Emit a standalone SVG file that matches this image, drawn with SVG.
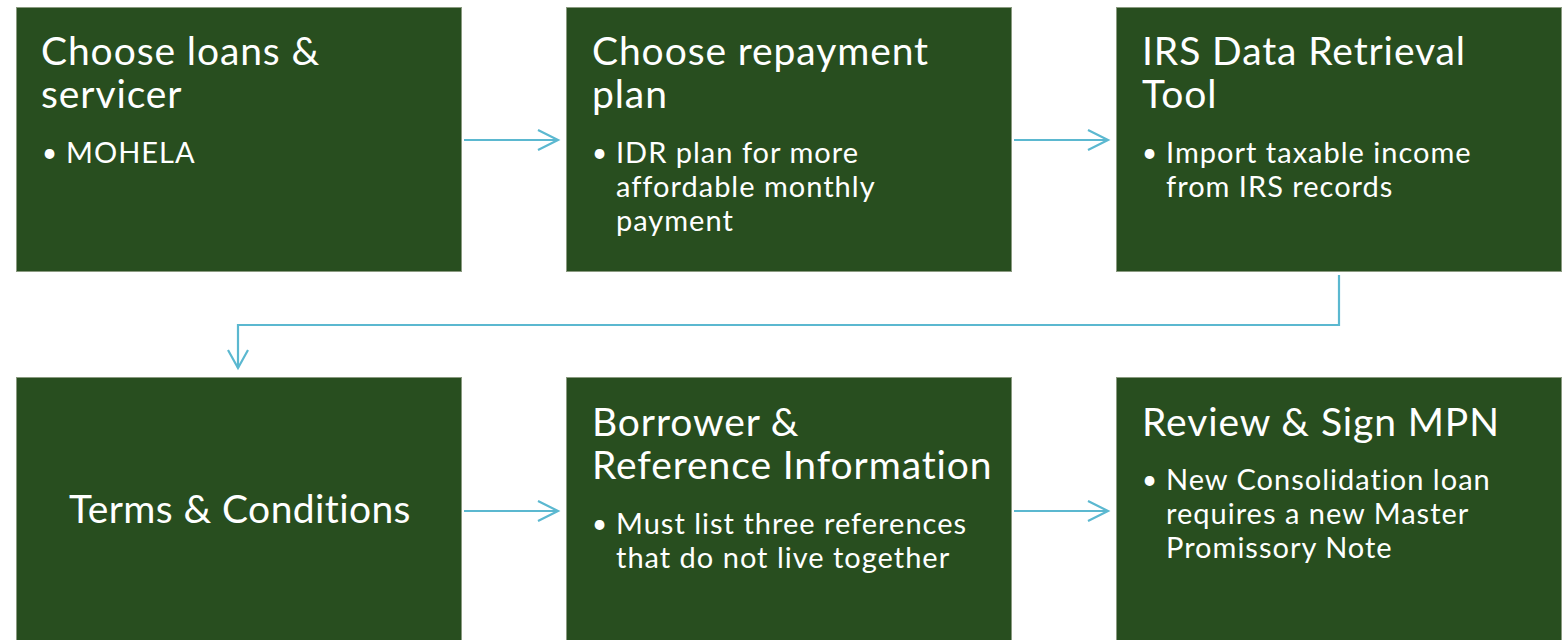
<svg xmlns="http://www.w3.org/2000/svg" width="1566" height="640" viewBox="0 0 1566 640">
  <style>
    .box { fill: #284e1f; stroke: #8a9a80; stroke-width: 1; }
    .title { font-family: Lato, "Liberation Sans", sans-serif; font-size: 39px; letter-spacing: 0.9px; fill: #ffffff; }
    .item { font-family: Lato, "Liberation Sans", sans-serif; font-size: 29px; letter-spacing: 1px; fill: #ffffff; }
    .dot { font-family: Lato, "Liberation Sans", sans-serif; font-size: 26px; fill: #ffffff; }
    .conn { fill: none; stroke: #5bb8d0; stroke-width: 2.2; }
  </style>
  <rect width="1566" height="640" fill="#ffffff"/>

  <!-- connectors between the steps -->
  <g id="connectors">
    <path class="conn" d="M464,140 H558"/>
    <path class="conn" d="M538,130 L558,140 L538,150"/>
    <path class="conn" d="M1014,140 H1108"/>
    <path class="conn" d="M1088,130 L1108,140 L1088,150"/>
    <path class="conn" d="M1339,275 V325 H238 V368"/>
    <path class="conn" d="M228,350 L238,368 L248,350"/>
    <path class="conn" d="M464,511 H558"/>
    <path class="conn" d="M538,501 L558,511 L538,521"/>
    <path class="conn" d="M1014,511 H1108"/>
    <path class="conn" d="M1088,501 L1108,511 L1088,521"/>
  </g>

  <g id="step-loans">
    <rect class="box" x="16.5" y="7.5" width="445" height="264"/>
    <text class="title" x="41" y="65">Choose loans &amp;</text>
    <text class="title" x="41" y="108">servicer</text>
    <text class="dot" x="42" y="162">•</text>
    <text class="item" x="66" y="163">MOHELA</text>
  </g>

  <g id="step-plan">
    <rect class="box" x="566.5" y="7.5" width="445" height="264"/>
    <text class="title" x="592" y="65">Choose repayment</text>
    <text class="title" x="592" y="108">plan</text>
    <text class="dot" x="592" y="162">•</text>
    <text class="item" x="616" y="163">IDR plan for more</text>
    <text class="item" x="616" y="197">affordable monthly</text>
    <text class="item" x="616" y="231">payment</text>
  </g>

  <g id="step-irs">
    <rect class="box" x="1116.5" y="7.5" width="445" height="264"/>
    <text class="title" x="1142" y="65">IRS Data Retrieval</text>
    <text class="title" x="1142" y="108">Tool</text>
    <text class="dot" x="1142" y="162">•</text>
    <text class="item" x="1166" y="163">Import taxable income</text>
    <text class="item" x="1166" y="197">from IRS records</text>
  </g>

  <g id="step-terms">
    <rect class="box" x="16.5" y="377.5" width="445" height="270"/>
    <text class="title" x="240" y="523" text-anchor="middle" style="letter-spacing:0.4px">Terms &amp; Conditions</text>
  </g>

  <g id="step-references">
    <rect class="box" x="566.5" y="377.5" width="445" height="270"/>
    <text class="title" x="592" y="436">Borrower &amp;</text>
    <text class="title" x="592" y="479">Reference Information</text>
    <text class="dot" x="592" y="533">•</text>
    <text class="item" x="616" y="534">Must list three references</text>
    <text class="item" x="616" y="568">that do not live together</text>
  </g>

  <g id="step-mpn">
    <rect class="box" x="1116.5" y="377.5" width="445" height="270"/>
    <text class="title" x="1142" y="436">Review &amp; Sign MPN</text>
    <text class="dot" x="1142" y="489">•</text>
    <text class="item" x="1166" y="490">New Consolidation loan</text>
    <text class="item" x="1166" y="524">requires a new Master</text>
    <text class="item" x="1166" y="558">Promissory Note</text>
  </g>
</svg>
